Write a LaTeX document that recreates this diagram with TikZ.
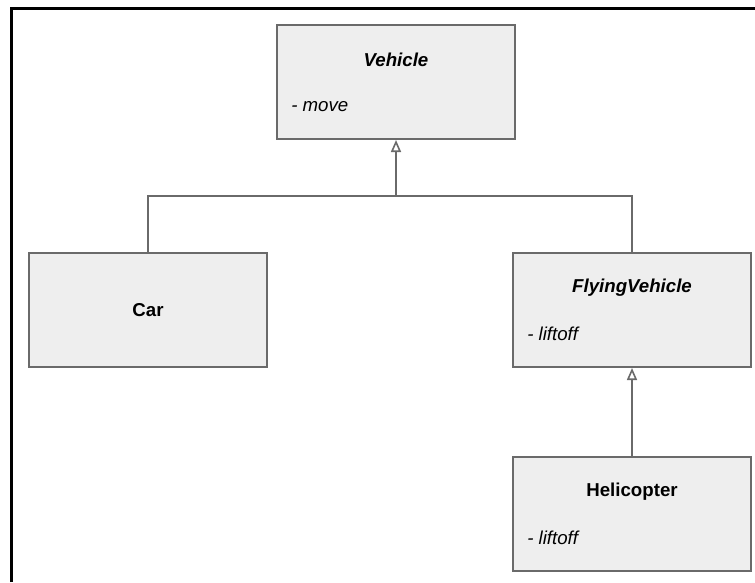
\documentclass[tikz,border=0pt]{standalone}
\usepackage{fontspec}
\setmainfont{Liberation Sans}
\usetikzlibrary{arrows.meta,positioning,calc}
\definecolor{edge}{HTML}{6A6A6A}
\definecolor{pane}{HTML}{EEEEEE}

\begin{document}
\begin{tikzpicture}[x=0.75pt,y=-0.75pt,
 cls/.style={draw=edge,line width=1.5pt,fill=pane,minimum width=178.5pt,
 minimum height=85.5pt,inner sep=0pt},
 title/.style={font=\fontsize{14}{16}\selectfont\bfseries,inner sep=0pt},
 attr/.style={font=\fontsize{14}{16}\selectfont\itshape,inner sep=0pt,anchor=west},
 link/.style={draw=edge,line width=1.5pt},
 arr/.style={link,-{Triangle[open,fill=white,length=9pt,width=7.5pt,line width=1.2pt]}}]
 \fill[white] (0,0) rectangle (755,582);
 \useasboundingbox (0,0) rectangle (755,582);
 \draw[line width=2.25pt] (11.5,582) |- (755,8);
 \node[cls] (vehicle) at (396,82) {};
 \node[title] (vehicle-name) at ($(vehicle.center)+(0,-22)$) {\itshape Vehicle};
 \node[attr] (vehicle-op) at ($(vehicle.west)+(15,25)$) {- move};
 \node[cls] (car) at (148,310) {};
 \node[title] (car-name) at (car.center) {Car};
 \node[cls] (flying) at (632,310) {};
 \node[title] (flying-name) at ($(flying.center)+(0,-22)$) {\itshape FlyingVehicle};
 \node[attr] (flying-op) at ($(flying.west)+(15,24)$) {- liftoff};
 \node[cls] (heli) at (632,514) {};
 \node[title] (heli-name) at ($(heli.center)+(0,-22)$) {Helicopter};
 \node[attr] (heli-op) at ($(heli.west)+(15,24)$) {- liftoff};
 \coordinate (bus) at (396,196);
 \draw[link] (car.north) |- (bus) -| (flying.north);
 \draw[arr] (bus) -- (vehicle.south);
 \draw[arr] (heli.north) -- (flying.south);
\end{tikzpicture}
\end{document}
